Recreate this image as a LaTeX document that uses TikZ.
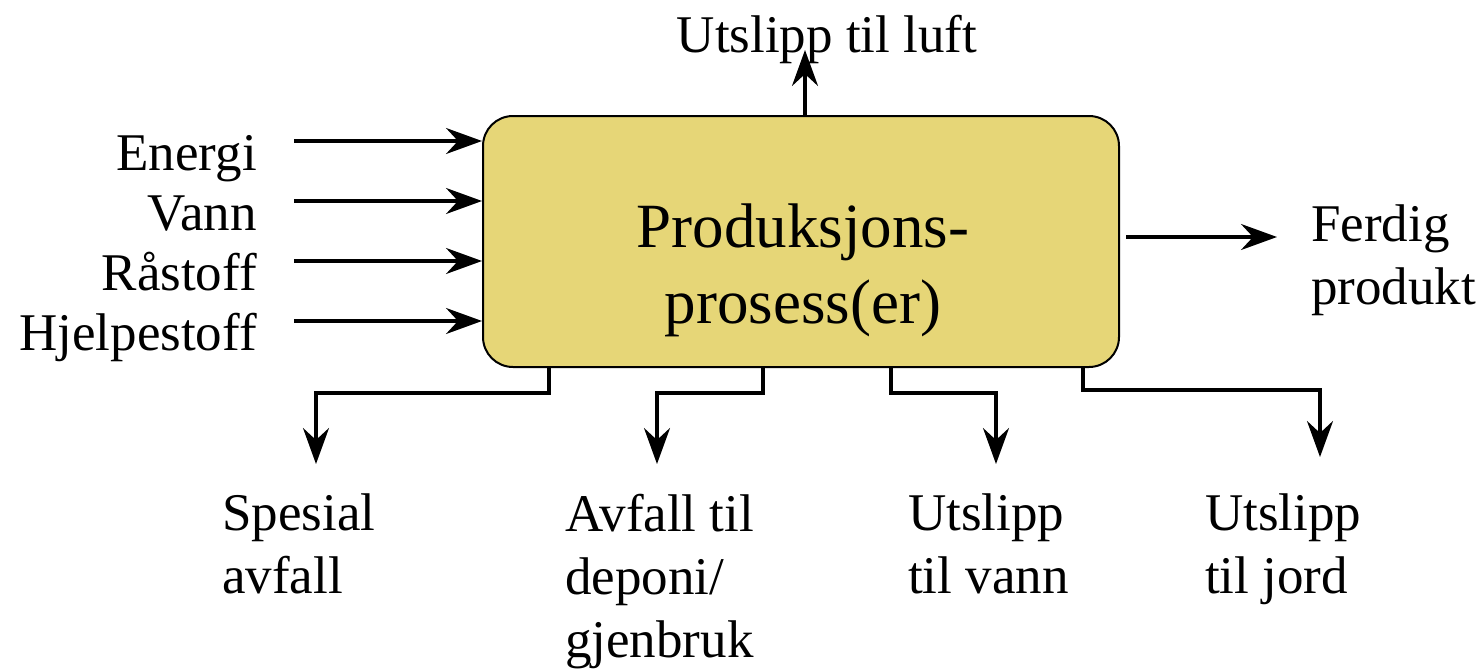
\documentclass[tikz,border=0pt]{standalone}
\usepackage{fontspec}
\setmainfont{Liberation Serif}
\usetikzlibrary{arrows.meta}
\definecolor{boxfill}{HTML}{E6D677}
\tikzset{
  flowtip/.tip={Stealth[length=36pt, width=26pt, inset=12pt]},
  flow/.style={line width=3.2pt, -flowtip},
  lbl/.style={inner sep=0pt, font=\fontsize{53}{63}\selectfont},
  mlbl/.style={inner sep=0pt, align=left, anchor=north west, font=\fontsize{53}{63}\selectfont},
  procbox/.style={draw, line width=2pt, fill=boxfill, rounded corners=30pt, anchor=north west,
     minimum width=636pt, minimum height=251pt, inner sep=0pt}
}
\begin{document}
\begin{tikzpicture}[x=1pt,y=-1pt]
\useasboundingbox (0,0) rectangle (1484,669);
\node[procbox] (box) at (482,115) {};
\node[inner sep=0pt, align=center, font=\fontsize{63}{76}\selectfont] (proc) at (803,270) {Produksjons-\\prosess(er)};

% inputs
\node[lbl, anchor=base east] (energi) at (257,170) {Energi};
\node[lbl, anchor=base east] (vann) at (257,230) {Vann};
\node[lbl, anchor=base east] (ra) at (257,290) {Råstoff};
\node[lbl, anchor=base east] (hj) at (257,350) {Hjelpestoff};
\coordinate (i1) at (294,141);
\coordinate (i2) at (294,201);
\coordinate (i3) at (294,261);
\coordinate (i4) at (294,321);
\draw[flow] (i1) -- (i1 -| box.west);
\draw[flow] (i2) -- (i2 -| box.west);
\draw[flow] (i3) -- (i3 -| box.west);
\draw[flow] (i4) -- (i4 -| box.west);

% top
\node[lbl, anchor=base] (luft) at (827,53) {Utslipp til luft};
\coordinate (t0) at (805,115);
\coordinate (t1) at (805,50);
\draw[flow] (t0) -- (t1);

% right
\coordinate (r0) at (1126,237);
\coordinate (r1) at (1277,237);
\draw[flow] (r0) -- (r1);
\node[mlbl] (ferdig) at (1311,205) {Ferdig\\produkt};

% bottom
\coordinate (b1) at (549,366);
\coordinate (b2) at (763,366);
\coordinate (b3) at (891,366);
\coordinate (b4) at (1083,366);
\coordinate (e1) at (316,464);
\coordinate (e2) at (657,464);
\coordinate (e3) at (996,464);
\coordinate (e4) at (1320,457);
\draw[flow] (b1) -- (549,393) -| (e1);
\draw[flow] (b2) -- (763,393) -| (e2);
\draw[flow] (b3) -- (891,393) -| (e3);
\draw[flow] (b4) -- (1083,390) -| (e4);

\node[mlbl] (spes) at (222,494) {Spesial\\avfall};
\node[mlbl] (avf) at (565,494) {Avfall til\\deponi/\\gjenbruk};
\node[mlbl] (vannut) at (908,494) {Utslipp\\til vann};
\node[mlbl] (jord) at (1205,494) {Utslipp\\til jord};
\end{tikzpicture}
\end{document}
